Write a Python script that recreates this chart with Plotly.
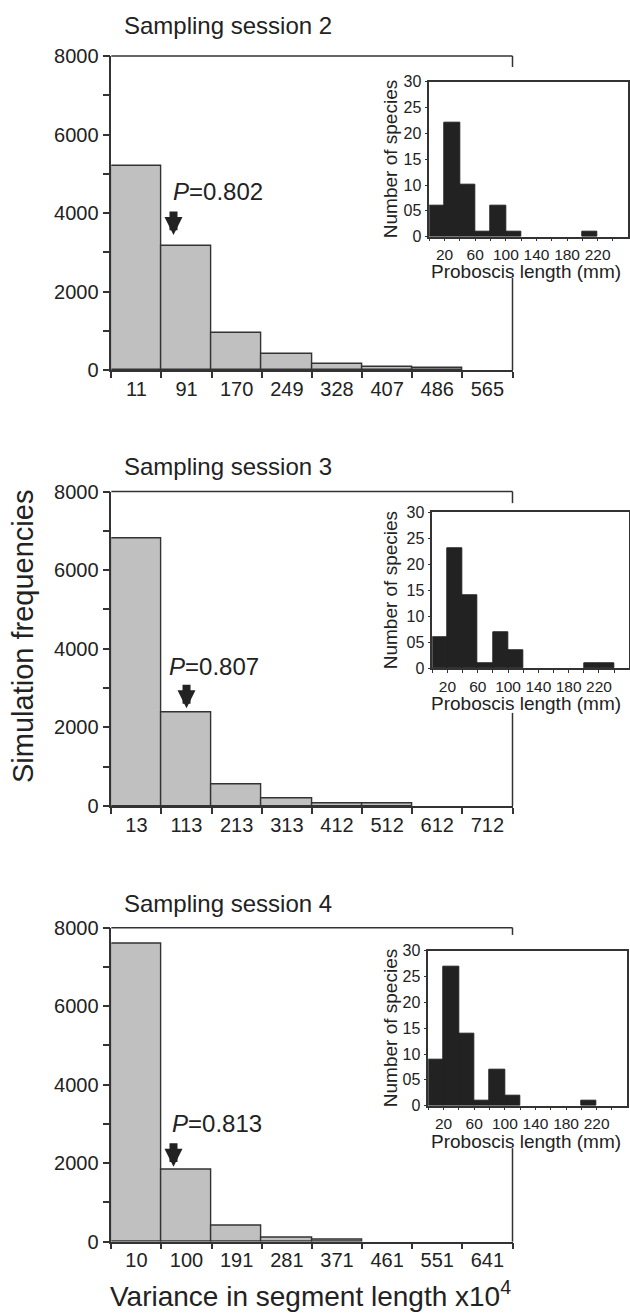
import plotly.graph_objects as go

W, H = 630, 1313
FONT = "Liberation Sans, Arial, sans-serif"
TXT = "#222222"
LINE = "#333333"

# ---------------- data ----------------
sessions = ["Sampling session 2", "Sampling session 3", "Sampling session 4"]

var_labels_s2 = ["11", "91", "170", "249", "328", "407", "486", "565"]
var_labels_s3 = ["13", "113", "213", "313", "412", "512", "612", "712"]
var_labels_s4 = ["10", "100", "191", "281", "371", "461", "551", "641"]

sim_freq_s2 = [5210, 3150, 940, 410, 160, 75, 40, 0]
sim_freq_s3 = [6800, 2380, 540, 190, 70, 65, 0, 0]
sim_freq_s4 = [7600, 1830, 410, 110, 40, 0, 0, 0]

p_values = ["0.802", "0.807", "0.813"]

proboscis_bin_centers = [10, 30, 50, 70, 90, 110, 130, 150, 170, 190, 210, 230]
species_s2 = [6, 22, 10, 1, 6, 1, 0, 0, 0, 0, 1, 0]
species_s3 = [6, 23, 14, 1, 7, 3.5, 0, 0, 0, 0, 1, 1]
species_s4 = [9, 27, 14, 1, 7, 2, 0, 0, 0, 0, 1, 0]

main_yticks = [0, 1000, 2000, 3000, 4000, 5000, 6000, 7000, 8000]
main_yticktext = ["0", "", "2000", "", "4000", "", "6000", "", "8000"]
inset_yticks = [0, 5, 10, 15, 20, 25, 30]
inset_yticktext = ["0", "05", "10", "15", "20", "25", "30"]
inset_xticks = [0, 20, 40, 60, 80, 100, 120, 140, 160, 180, 200, 220, 240]
inset_xticktext = ["", "20", "", "60", "", "100", "", "140", "", "180", "", "220", ""]

# ---------------- layout geometry (pixels) ----------------
def py(y):
    return (H - y) / H

def px(x):
    return x / W

main_x = (111.3, 512.5)
main_y = [(56, 370), (491.5, 806), (927.7, 1241.7)]
inset_x = [(429.3, 628.3), (432.3, 629.3), (428.3, 627.3)]
inset_y = [(81.7, 236.7), (512.3, 668.3), (950.7, 1105.7)]
title_y = [25, 466, 903]
right_breaks = [(0.965, 0.293), (0.963, 0.296), (0.977, 0.298)]
p_text_pos = [(1.62, 4540), (1.54, 3540), (1.61, 3020)]
arrow_pos = [(0.74, 3440), (1.0, 2485), (0.74, 1911)]
inset_xtitle_off = [35, 35, 35.5]

var_labels = [var_labels_s2, var_labels_s3, var_labels_s4]
sim_freqs = [sim_freq_s2, sim_freq_s3, sim_freq_s4]
species = [species_s2, species_s3, species_s4]


def nz(vals):
    return [v if v else None for v in vals]


fig = go.Figure()
annotations = []
shapes = []

for i in range(3):
    mi = 2 * i + 1
    ii = 2 * i + 2
    mx = "x" if mi == 1 else f"x{mi}"
    my = "y" if mi == 1 else f"y{mi}"
    ix, iy = f"x{ii}", f"y{ii}"

    fig.add_trace(go.Bar(
        x=var_labels[i], y=nz(sim_freqs[i]), xaxis=mx, yaxis=my,
        marker=dict(color="#c0c0c0", line=dict(color=LINE, width=1.4)),
        showlegend=False, hoverinfo="skip",
    ))
    fig.add_trace(go.Bar(
        x=proboscis_bin_centers, y=nz(species[i]), width=20, xaxis=ix, yaxis=iy,
        marker=dict(color="#222222", line=dict(color="#222222", width=1)),
        showlegend=False, hoverinfo="skip",
    ))

    y0, y1 = main_y[i]
    fig.layout[f"xaxis{'' if mi == 1 else mi}"] = dict(
        domain=[px(main_x[0]), px(main_x[1])], anchor=my, type="category",
        range=[-0.5, 7.5], tickson="boundaries", ticks="outside", ticklen=6,
        tickwidth=1.5, tickcolor=LINE, showline=True, linecolor=LINE, linewidth=1.5,
        showgrid=False, zeroline=False, fixedrange=True,
        tickfont=dict(family=FONT, size=20, color=TXT),
    )
    fig.layout[f"yaxis{'' if mi == 1 else mi}"] = dict(
        domain=[py(y1), py(y0)], anchor=mx, range=[0, 8000],
        tickvals=main_yticks, ticktext=main_yticktext, ticks="outside", ticklen=7,
        tickwidth=1.5, tickcolor=LINE, showline=True, linecolor=LINE, linewidth=1.5,
        showgrid=False, zeroline=False, fixedrange=True,
        tickfont=dict(family=FONT, size=20, color=TXT),
    )

    a0, a1 = inset_x[i]
    b0, b1 = inset_y[i]
    fig.layout[f"xaxis{ii}"] = dict(
        domain=[px(a0), px(a1)], anchor=iy, range=[0, 260],
        tickvals=inset_xticks, ticktext=inset_xticktext, ticks="outside", ticklen=3,
        tickwidth=1.2, tickcolor=LINE, showline=True, linecolor=LINE, linewidth=1.5,
        mirror=True, showgrid=False, zeroline=False, fixedrange=True,
        tickfont=dict(family=FONT, size=15.5, color=TXT),
    )
    fig.layout[f"yaxis{ii}"] = dict(
        domain=[py(b1), py(b0)], anchor=ix, range=[0, 30],
        tickvals=inset_yticks, ticktext=inset_yticktext, ticks="outside", ticklen=3,
        tickwidth=1.2, tickcolor=LINE, showline=True, linecolor=LINE, linewidth=1.5,
        mirror=True, showgrid=False, zeroline=False, fixedrange=True,
        tickfont=dict(family=FONT, size=16, color=TXT),
    )

    rt, rb = right_breaks[i]
    shapes.append(dict(type="line", xref=f"{mx} domain", yref=f"{my} domain",
                       x0=0, x1=1, y0=1, y1=1, line=dict(color=LINE, width=1.5)))
    shapes.append(dict(type="line", xref=f"{mx} domain", yref=f"{my} domain",
                       x0=1, x1=1, y0=1, y1=rt, line=dict(color=LINE, width=1.5)))
    shapes.append(dict(type="line", xref=f"{mx} domain", yref=f"{my} domain",
                       x0=1, x1=1, y0=rb, y1=0, line=dict(color=LINE, width=1.5)))

    annotations.append(dict(text=sessions[i], xref="paper", yref="paper",
                            x=px(122), y=py(title_y[i]), xanchor="left", yanchor="middle",
                            showarrow=False, font=dict(family=FONT, size=24, color=TXT)))
    tx, ty = p_text_pos[i]
    annotations.append(dict(text=f"<i>P</i>={p_values[i]}", xref=mx, yref=my, x=tx, y=ty,
                            showarrow=False, xanchor="center", yanchor="middle",
                            font=dict(family=FONT, size=24, color=TXT)))
    axx, axy = arrow_pos[i]
    annotations.append(dict(text="", xref=mx, yref=my, x=axx, y=axy, ax=0, ay=-25,
                            showarrow=True, arrowhead=2, arrowwidth=8, arrowsize=0.45,
                            arrowcolor="#222222"))
    annotations.append(dict(text="Number of species", xref="paper", yref="paper",
                            x=px(390), y=py((b0 + b1) / 2), textangle=-90, showarrow=False,
                            xanchor="center", yanchor="middle",
                            font=dict(family=FONT, size=19, color=TXT)))
    annotations.append(dict(text="Proboscis length (mm)", xref="paper", yref="paper",
                            x=px(526), y=py(b1 + inset_xtitle_off[i]), showarrow=False,
                            xanchor="center", yanchor="middle", borderpad=0,
                            font=dict(family=FONT, size=19, color=TXT)))

annotations.append(dict(text="Simulation frequencies", xref="paper", yref="paper",
                        x=px(23), y=py(637), textangle=-90, showarrow=False,
                        xanchor="center", yanchor="middle",
                        font=dict(family=FONT, size=29, color=TXT)))
annotations.append(dict(text="Variance in segment length x10<sup>4</sup>", xref="paper",
                        yref="paper", x=px(310), y=0, showarrow=False,
                        xanchor="center", yanchor="bottom", borderpad=0,
                        font=dict(family=FONT, size=28, color=TXT)))

fig.update_layout(
    width=W, height=H, margin=dict(l=0, r=0, t=0, b=0, autoexpand=False),
    paper_bgcolor="white", plot_bgcolor="white",
    bargap=0, barmode="overlay", showlegend=False,
    annotations=annotations, shapes=shapes,
)

fig.write_html(
    "out.html",
    post_script="document.documentElement.style.margin='0';document.body.style.margin='0';"
                "document.body.style.padding='0';document.body.style.overflow='hidden';",
)
